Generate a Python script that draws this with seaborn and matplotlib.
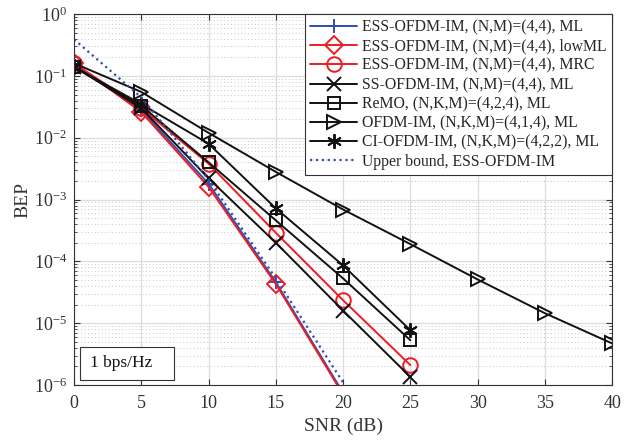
import numpy as np
import pandas as pd
import seaborn as sns
import matplotlib.pyplot as plt
from matplotlib.patches import Rectangle
from matplotlib.ticker import LogLocator, NullFormatter

# SNR points (dB)
snr_20 = [0, 5, 10, 15, 20]
snr_25 = [0, 5, 10, 15, 20, 25]
snr_40 = [0, 5, 10, 15, 20, 25, 30, 35, 40]

# BEP values
ess_ml = [0.15, 0.028, 0.0018, 4.6e-5, 7.5e-7]
ess_lowml = [0.16, 0.026, 0.0016, 4.3e-5, 7e-7]
ess_mrc = [0.16, 0.030, 0.0038, 2.9e-4, 2.35e-5, 2.1e-6]
ss_ml = [0.14, 0.030, 0.0022, 2.0e-4, 1.6e-5, 1.35e-6]
remo_ml = [0.14, 0.033, 0.0040, 4.6e-4, 5.3e-5, 5.3e-6]
ofdm_im = [0.16, 0.055, 0.012, 2.8e-3, 6.9e-4, 1.9e-4, 5.1e-5, 1.45e-5, 4.7e-6]
ci_ofdm = [0.14, 0.035, 0.0080, 7.2e-4, 8.6e-5, 7.7e-6]
upper_bound = [0.39, 0.045, 0.0021, 5.3e-5, 1.1e-6]

labels = [
    'ESS-OFDM-IM, (N,M)=(4,4), ML',
    'ESS-OFDM-IM, (N,M)=(4,4), lowML',
    'ESS-OFDM-IM, (N,M)=(4,4), MRC',
    'SS-OFDM-IM, (N,M)=(4,4), ML',
    'ReMO, (N,K,M)=(4,2,4), ML',
    'OFDM-IM, (N,K,M)=(4,1,4), ML',
    'CI-OFDM-IM, (N,K,M)=(4,2,2), ML',
    'Upper bound, ESS-OFDM-IM',
]

sns.set_style('ticks')
plt.rcParams['font.family'] = ['Liberation Serif', 'DejaVu Serif']
plt.rcParams['mathtext.fontset'] = 'custom'
plt.rcParams['mathtext.rm'] = 'Liberation Serif'
plt.rcParams['mathtext.it'] = 'Liberation Serif:italic'

blue = '#2f4fb0'
red = '#ee1c24'
black = '#111111'

series = [
    (snr_20, ess_ml, blue, '+', '-'),
    (snr_20, ess_lowml, red, 'D', '-'),
    (snr_25, ess_mrc, red, 'o', '-'),
    (snr_25, ss_ml, black, 'x', '-'),
    (snr_25, remo_ml, black, 's', '-'),
    (snr_40, ofdm_im, black, '>', '-'),
    (snr_25, ci_ofdm, black, (6, 2, 0), '-'),
    (snr_20, upper_bound, blue, None, ':'),
]

fig = plt.figure(figsize=(6.33, 4.41), dpi=100)
ax = fig.add_axes([0.117, 0.127, 0.850, 0.841])

for (x, y, c, m, ls), lab in zip(series, labels):
    df = pd.DataFrame({'snr': x, 'bep': y})
    kw = dict(marker=m, markersize=10.5, markerfacecolor='none',
              markeredgecolor=c, markeredgewidth=1.4) if m is not None else {}
    if m == 'D':
        kw['markersize'] = 9.5
    if m == 's':
        kw['markersize'] = 8.5
    sns.lineplot(data=df, x='snr', y='bep', ax=ax, color=c, linestyle=ls,
                 linewidth=1.6 if ls == ':' else 1.4, label=lab, **kw)

ax.set_yscale('log')
ax.set_xlim(0, 40)
ax.set_ylim(1e-6, 1)
ax.set_xticks(range(0, 41, 5))
ax.yaxis.set_major_locator(LogLocator(base=10, numticks=10))
ax.yaxis.set_minor_locator(LogLocator(base=10, subs=np.arange(2, 10), numticks=20))
ax.yaxis.set_minor_formatter(NullFormatter())

ax.grid(True, which='major', color='#dcdcdc', linewidth=0.9)
ax.grid(True, which='minor', axis='y', color='#c8c8c8', linestyle=(0, (1, 2.5)), linewidth=0.7)
ax.set_axisbelow(True)

ax.tick_params(which='both', direction='in', top=True, right=True, colors='#333333',
               labelsize=13, labelcolor='#333333')
ax.tick_params(axis='x', which='major', pad=7)
ax.tick_params(axis='y', which='major', pad=5)
ax.tick_params(which='major', length=4)
ax.tick_params(which='minor', length=2)
for s in ax.spines.values():
    s.set_color('#333333')
    s.set_linewidth(0.8)

ax.set_xlabel('SNR (dB)', fontsize=14, color='#333333', labelpad=4)
ax.set_ylabel('BEP', fontsize=14, color='#333333', labelpad=2)

leg = ax.legend(loc='upper right', fontsize=11.3, frameon=True, fancybox=False,
                edgecolor='#333333', borderaxespad=0, handlelength=3.0,
                handletextpad=0.3, labelspacing=0.2, borderpad=0.35)
leg.get_frame().set_linewidth(0.8)
leg.get_frame().set_alpha(1)

ax.add_patch(Rectangle((0.011, 0.0135), 0.175, 0.089, transform=ax.transAxes,
                       facecolor='white', edgecolor='#333333', linewidth=0.8, zorder=5))
ax.text(0.03, 0.058, '1 bps/Hz', transform=ax.transAxes, fontsize=12.5,
        color='#111111', va='center', ha='left', zorder=6)

fig.savefig('out.png', dpi=100)
